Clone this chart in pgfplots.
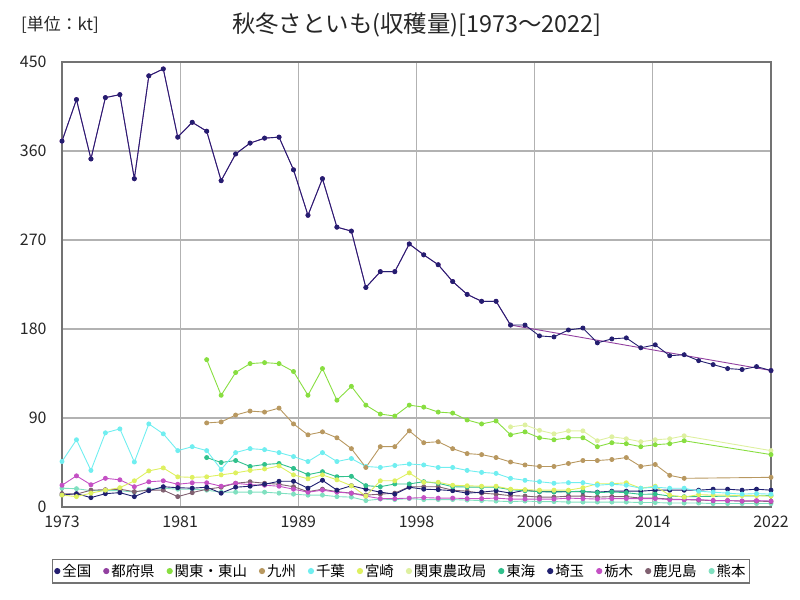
\documentclass[border=0pt]{standalone}
\usepackage{fontspec}
\setmainfont{Noto Sans CJK JP}
\usepackage{pgfplots}
\pgfplotsset{compat=1.18}
\definecolor{cZenkoku}{RGB}{36,30,112}
\definecolor{cTofuken}{RGB}{146,64,160}
\definecolor{cKanto}{RGB}{136,222,64}
\definecolor{cKyushu}{RGB}{184,152,96}
\definecolor{cChiba}{RGB}{112,238,240}
\definecolor{cMiyazaki}{RGB}{222,240,96}
\definecolor{cNosei}{RGB}{222,240,160}
\definecolor{cTokai}{RGB}{48,192,140}
\definecolor{cSaitama}{RGB}{32,32,112}
\definecolor{cTochigi}{RGB}{196,80,196}
\definecolor{cKagoshima}{RGB}{128,96,112}
\definecolor{cKumamoto}{RGB}{128,224,192}
\begin{document}
\begin{tikzpicture}
\useasboundingbox (0,0) rectangle (800bp,600bp);
\node[font=\fontsize{23.5}{23.5}\selectfont, text=black!85] at (417bp,575bp) {秋冬さといも(収穫量)[1973～2022]};
\node[font=\fontsize{17}{17}\selectfont, text=black!85] at (60bp,575bp) {[単位：kt]};
\begin{axis}[
  at={(62bp,93bp)}, anchor=south west,
  width=709bp, height=445bp, scale only axis,
  xmin=1973, xmax=2022, ymin=0, ymax=450,
  ytick={0,90,180,270,360,450},
  xtick={1973,1981.16667,1989.33333,1997.5,2005.66667,2013.83333,2022},
  xticklabels={1973,1981,1989,1998,2006,2014,2022},
  /pgf/number format/assume math mode=true,
  tick label style={font=\fontsize{16}{16}\selectfont, text=black!85},
  yticklabel style={xshift=-12bp},
  xticklabel style={yshift=-5bp},
  major tick length=0pt,
  grid=major,
  major grid style={color=black!30, line width=1.3bp},
  axis line style={color=black!55, line width=1.5bp},
  every axis plot/.append style={line width=0.9bp, mark=*, mark size=2bp},
  reverse legend,
  legend columns=12,
  legend image code/.code={\fill[#1] (0.1cm,0cm) circle (2.6bp);},
  legend style={at={(0.478,-0.144)}, anchor=center, draw=black!55, line width=1.2bp,
    font=\fontsize{14.5}{14.5}\selectfont, inner xsep=2bp, inner ysep=3bp,
    /tikz/every even column/.append style={column sep=10bp}},
]
% 熊本
\addplot[color=cKumamoto, mark options={fill=cKumamoto}] coordinates {
(1973,19)(1974,18.5)(1975,16.5)(1976,16.5)(1977,16.5)(1978,15)(1979,18)(1980,19)(1981,18)(1982,18)
(1983,17)(1984,15)(1985,15)(1986,15)(1987,15)(1988,14)(1989,13)(1990,12)(1991,12)(1992,10.5)
(1993,10)(1994,6.5)(1995,8)(1996,7.5)(1997,8.5)(1998,7.5)(1999,7.5)(2000,7.5)(2001,7)(2002,6.5)
(2003,6)(2004,5.5)(2005,6)(2006,5.5)(2007,5.5)(2008,5)(2009,5)(2010,5)(2011,5)(2012,5)
(2013,4.5)(2014,4.5)(2015,4)(2016,4)(2017,4)(2018,3.5)(2019,3.5)(2020,3.5)(2021,3.5)(2022,3.5)};
\addlegendentry{熊本}
% 鹿児島
\addplot[color=cKagoshima, mark options={fill=cKagoshima}] coordinates {
(1973,13.5)(1974,13)(1975,17)(1976,17.5)(1977,18)(1978,15.5)(1979,17)(1980,17)(1981,10.5)(1982,14.5)
(1983,18)(1984,20)(1985,24)(1986,25.5)(1987,24)(1988,23)(1989,20.5)(1990,15.5)(1991,18)(1992,15.5)
(1993,14)(1994,12)(1995,13)(1996,14)(1997,20.5)(1998,20.5)(1999,20.5)(2000,17)(2001,16)(2002,14)
(2003,13)(2004,11.5)(2005,11)(2006,10)(2007,10)(2008,11)(2009,11)(2010,10)(2011,10.5)(2012,10.5)
(2013,9)(2014,9)(2015,8)(2016,7.5)(2017,7)(2018,6.5)(2019,6.5)(2020,6)(2021,6)(2022,5.5)};
\addlegendentry{鹿児島}
% 栃木
\addplot[color=cTochigi, mark options={fill=cTochigi}] coordinates {
(1973,22)(1974,31.5)(1975,22.5)(1976,29)(1977,27.5)(1978,20.5)(1979,25.5)(1980,26.5)(1981,23)(1982,24.5)
(1983,24.5)(1984,21)(1985,24)(1986,22.5)(1987,22)(1988,21)(1989,18)(1990,15)(1991,17)(1992,15)
(1993,14)(1994,11)(1995,8.5)(1996,8.5)(1997,9)(1998,9.5)(1999,9)(2000,9)(2001,8.5)(2002,8.5)
(2003,9)(2004,8)(2005,8)(2006,8)(2007,8)(2008,9)(2009,8.5)(2010,8)(2011,8.5)(2012,8.5)
(2013,8.5)(2014,8.5)(2015,7.5)(2016,7.5)(2017,7.5)(2018,6.5)(2019,6.5)(2020,6)(2021,6.5)(2022,6)};
\addlegendentry{栃木}
% 埼玉
\addplot[color=cSaitama, mark options={fill=cSaitama}] coordinates {
(1973,12)(1974,13.5)(1975,9.5)(1976,13.5)(1977,14.5)(1978,10.5)(1979,16.5)(1980,20.5)(1981,19.5)(1982,19)
(1983,20)(1984,14)(1985,20)(1986,21)(1987,23)(1988,26)(1989,26)(1990,19)(1991,27)(1992,17)
(1993,21.5)(1994,18)(1995,15)(1996,13)(1997,20)(1998,18)(1999,17.5)(2000,16.5)(2001,14)(2002,15)
(2003,16.5)(2004,14)(2005,17)(2006,15.5)(2007,15.5)(2008,15.5)(2009,15.5)(2010,15)(2011,16)(2012,16)
(2013,16)(2014,17)(2015,17)(2016,17)(2017,17)(2018,18)(2019,18)(2020,17)(2021,18)(2022,17)};
\addlegendentry{埼玉}
% 東海
\addplot[color=cTokai, mark options={fill=cTokai}] coordinates {
(1983,50)(1984,45)(1985,47)(1986,41)(1987,43)(1988,44)(1989,39)(1990,32.7)(1991,35.7)(1992,30.6)
(1993,31)(1994,21.6)(1995,20.5)(1996,23.3)(1997,23.3)(1998,25.6)(1999,24)(2000,20.5)(2001,20.2)(2002,20)
(2003,20)(2004,17.5)(2005,16.5)(2006,15.5)(2007,15.2)(2008,15.5)(2009,16)(2010,14.5)(2011,15.2)(2012,14.5)
(2013,12.8)(2014,13.1)(2015,11.1)(2016,10.4)(2022,11.5)};
\addlegendentry{東海}
% 関東農政局
\addplot[color=cNosei, mark options={fill=cNosei}] coordinates {
(2004,81)(2005,83)(2006,77.5)(2007,74)(2008,77)(2009,77)(2010,67)(2011,71)(2012,69)(2013,66)
(2014,68)(2015,69)(2016,72)(2022,57)};
\addlegendentry{関東農政局}
% 宮崎
\addplot[color=cMiyazaki, mark options={fill=cMiyazaki}] coordinates {
(1973,12)(1974,10.5)(1975,14)(1976,17)(1977,19.5)(1978,26.5)(1979,36.5)(1980,39.5)(1981,30.5)(1982,30)
(1983,30.5)(1984,32.5)(1985,34.5)(1986,37)(1987,38.5)(1988,41.5)(1989,32.5)(1990,28.5)(1991,32.5)(1992,27.5)
(1993,21.5)(1994,11)(1995,26.5)(1996,26.5)(1997,34.5)(1998,25)(1999,25)(2000,22)(2001,21.5)(2002,21)
(2003,21)(2004,18)(2005,17.5)(2006,17)(2007,17)(2008,17)(2009,19.5)(2010,23.5)(2011,23.5)(2012,24.5)
(2013,19)(2014,21)(2015,12)(2016,10)(2017,12.5)(2018,12)(2019,12)(2020,11.5)(2021,11.5)(2022,11)};
\addlegendentry{宮崎}
% 千葉
\addplot[color=cChiba, mark options={fill=cChiba}] coordinates {
(1973,46)(1974,68)(1975,37)(1976,75)(1977,79)(1978,45.5)(1979,84)(1980,74)(1981,57)(1982,61)
(1983,57)(1984,38)(1985,55)(1986,59)(1987,58)(1988,55)(1989,51)(1990,46)(1991,55)(1992,46)
(1993,49)(1994,41)(1995,40)(1996,42)(1997,43.5)(1998,42.5)(1999,40)(2000,40)(2001,37)(2002,35)
(2003,34)(2004,29)(2005,27)(2006,25.6)(2007,24)(2008,24.6)(2009,24.6)(2010,22)(2011,23)(2012,22)
(2013,19)(2014,20)(2015,19)(2016,19)(2017,16)(2018,15)(2019,14)(2020,13)(2021,13.5)(2022,13)};
\addlegendentry{千葉}
% 九州
\addplot[color=cKyushu, mark options={fill=cKyushu}] coordinates {
(1983,85)(1984,86)(1985,93)(1986,97)(1987,96)(1988,100)(1989,84)(1990,73)(1991,76)(1992,70)
(1993,59)(1994,40)(1995,61)(1996,61)(1997,77)(1998,65)(1999,66)(2000,59)(2001,54)(2002,53)
(2003,50)(2004,45.5)(2005,42.5)(2006,41)(2007,41)(2008,44)(2009,47)(2010,47)(2011,48)(2012,50)
(2013,41)(2014,43)(2015,32)(2016,29)(2022,30)};
\addlegendentry{九州}
% 関東・東山
\addplot[color=cKanto, mark options={fill=cKanto}] coordinates {
(1983,149)(1984,113)(1985,136)(1986,145)(1987,146)(1988,145)(1989,137)(1990,113)(1991,140)(1992,108)
(1993,122)(1994,103)(1995,94)(1996,92)(1997,103)(1998,101)(1999,96)(2000,95)(2001,88)(2002,84)
(2003,87)(2004,73)(2005,76)(2006,70)(2007,68)(2008,70)(2009,70)(2010,61)(2011,65)(2012,64)
(2013,61)(2014,63)(2015,64)(2016,67)(2022,53)};
\addlegendentry{関東・東山}
% 都府県
\addplot[color=cTofuken, mark options={fill=cTofuken}] coordinates {
(1973,370)(1974,412)(1975,352)(1976,414)(1977,417)(1978,332)(1979,436)(1980,443)(1981,374)(1982,389)
(1983,380)(1984,330)(1985,357)(1986,368)(1987,373)(1988,374)(1989,341)(1990,295)(1991,332)(1992,283)
(1993,279)(1994,222)(1995,238)(1996,238)(1997,266)(1998,255)(1999,245)(2000,228)(2001,215)(2002,208)
(2003,208)(2004,184)(2022,138)};
\addlegendentry{都府県}
% 全国
\addplot[color=cZenkoku, mark options={fill=cZenkoku}] coordinates {
(1973,370)(1974,412)(1975,352)(1976,414)(1977,417)(1978,332)(1979,436)(1980,443)(1981,374)(1982,389)
(1983,380)(1984,330)(1985,357)(1986,368)(1987,373)(1988,374)(1989,341)(1990,295)(1991,332)(1992,283)
(1993,279)(1994,222)(1995,238)(1996,238)(1997,266)(1998,255)(1999,245)(2000,228)(2001,215)(2002,208)
(2003,208)(2004,184)(2005,184)(2006,173)(2007,172)(2008,179)(2009,181)(2010,166)(2011,170)(2012,171)
(2013,161)(2014,164)(2015,153)(2016,154)(2017,148)(2018,144)(2019,140)(2020,139)(2021,142)(2022,138)};
\addlegendentry{全国}
\end{axis}
\end{tikzpicture}
\end{document}
